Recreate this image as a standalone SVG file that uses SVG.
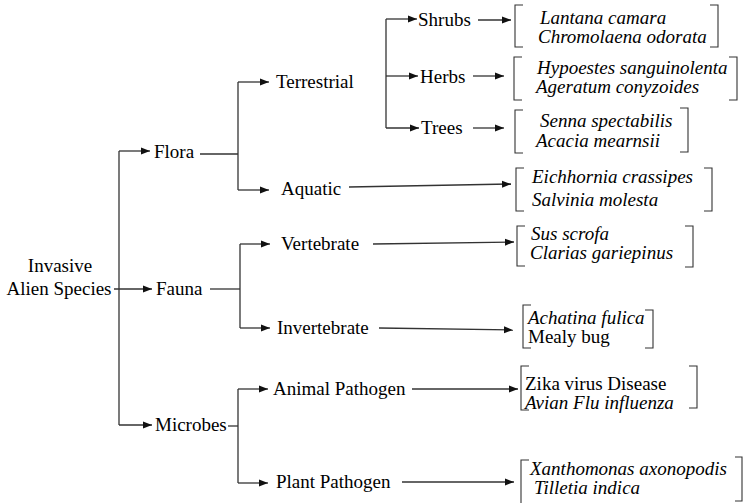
<svg xmlns="http://www.w3.org/2000/svg" width="743" height="503" viewBox="0 0 743 503">
<defs>
<marker id="ah" markerUnits="userSpaceOnUse" markerWidth="9" markerHeight="8" refX="9" refY="4" orient="auto">
<path d="M0,0.5 L9,4 L0,7.5 z" fill="#111"/>
</marker>
<style>
text{font-family:"Liberation Serif","Times New Roman",Times,serif;font-size:19px;fill:#000}
.i{font-style:italic}
.c{fill:none;stroke:#333;stroke-width:1.3}
.a{marker-end:url(#ah)}
.b{fill:none;stroke:#333;stroke-width:1.1}
</style>
</defs>
<rect width="743" height="503" fill="#fff"/>
<g id="connectors">
<path class="c a" d="M114 289 H152"/>
<path class="c" d="M119 151 V425"/>
<path class="c a" d="M119 151 H150"/>
<path class="c a" d="M119 425 H152"/>
<path class="c" d="M200 154 H238"/>
<path class="c" d="M238 82 V190"/>
<path class="c a" d="M238 82 H269"/>
<path class="c a" d="M238 190 H269"/>
<path class="c" d="M386 19 V128"/>
<path class="c a" d="M386 19 H417"/>
<path class="c a" d="M386 76 H418"/>
<path class="c a" d="M386 128 H419"/>
<path class="c a" d="M478 20 H511"/>
<path class="c a" d="M473 76 H504"/>
<path class="c a" d="M473 128 H504"/>
<path class="c a" d="M349 187 L511 184"/>
<path class="c" d="M210 289 H240"/>
<path class="c" d="M240 244 V328"/>
<path class="c a" d="M240 244 H270"/>
<path class="c a" d="M240 328 H270"/>
<path class="c a" d="M373 244 L514 242"/>
<path class="c a" d="M379 328 L513 330"/>
<path class="c" d="M228 426 H238"/>
<path class="c" d="M238 389 V483"/>
<path class="c a" d="M238 389 H268"/>
<path class="c a" d="M238 483 H268"/>
<path class="c a" d="M412 389 H518"/>
<path class="c a" d="M402 482 H514"/>
</g>
<g id="root"><text x="60" y="272" text-anchor="middle">Invasive</text><text x="59" y="295" text-anchor="middle">Alien Species</text></g>
<g id="flora"><text x="154" y="158">Flora</text></g>
<g id="fauna"><text x="156" y="295">Fauna</text></g>
<g id="microbes"><text x="155" y="431">Microbes</text></g>
<g id="terrestrial"><text x="276" y="88">Terrestrial</text></g>
<g id="aquatic"><text x="281" y="195">Aquatic</text></g>
<g id="shrubs"><text x="418" y="26">Shrubs</text></g>
<g id="herbs"><text x="420" y="83">Herbs</text></g>
<g id="trees"><text x="421" y="134">Trees</text></g>
<g id="vertebrate"><text x="281" y="250">Vertebrate</text></g>
<g id="invertebrate"><text x="277" y="334">Invertebrate</text></g>
<g id="animal-pathogen"><text x="273" y="395">Animal Pathogen</text></g>
<g id="plant-pathogen"><text x="276" y="488">Plant Pathogen</text></g>
<g id="sp-shrubs">
<path class="b" d="M523 5 H515 V47 H523 M710 5 H718 V47 H710"/>
<text class="i" x="540" y="24">Lantana camara</text>
<text class="i" x="538" y="43">Chromolaena odorata</text>
</g>
<g id="sp-herbs">
<path class="b" d="M522 57 H514 V100 H522 M729 57 H737 V100 H729"/>
<text class="i" x="537" y="74">Hypoestes sanguinolenta</text>
<text class="i" x="536" y="93">Ageratum conyzoides</text>
</g>
<g id="sp-trees">
<path class="b" d="M523 110 H515 V153 H523 M680 108 H688 V152 H680"/>
<text class="i" x="540" y="127">Senna spectabilis</text>
<text class="i" x="536" y="147">Acacia mearnsii</text>
</g>
<g id="sp-aquatic">
<path class="b" d="M524 168 H516 V211 H524 M704 168 H712 V211 H704"/>
<text class="i" x="532" y="183">Eichhornia crassipes</text>
<text class="i" x="532" y="206">Salvinia molesta</text>
</g>
<g id="sp-vertebrate">
<path class="b" d="M525 226 H517 V266 H525 M685 226 H693 V267 H685"/>
<text class="i" x="531" y="240">Sus scrofa</text>
<text class="i" x="530" y="259">Clarias gariepinus</text>
</g>
<g id="sp-invertebrate">
<path class="b" d="M531 305 H523 V348 H531 M645 310 H653 V348 H645"/>
<text class="i" x="528" y="324">Achatina fulica</text>
<text x="528" y="343">Mealy bug</text>
</g>
<g id="sp-animal">
<path class="b" d="M529 366 H521 V410 H529 M689 366 H697 V408 H689"/>
<text x="525" y="390">Zika virus Disease</text>
<text class="i" x="525" y="409">Avian Flu influenza</text>
</g>
<g id="sp-plant">
<path class="b" d="M529 460 H521 V503 M735 457 H742 V501 H735"/>
<text class="i" x="530" y="475">Xanthomonas axonopodis</text>
<text class="i" x="534" y="494">Tilletia indica</text>
</g>
</svg>
